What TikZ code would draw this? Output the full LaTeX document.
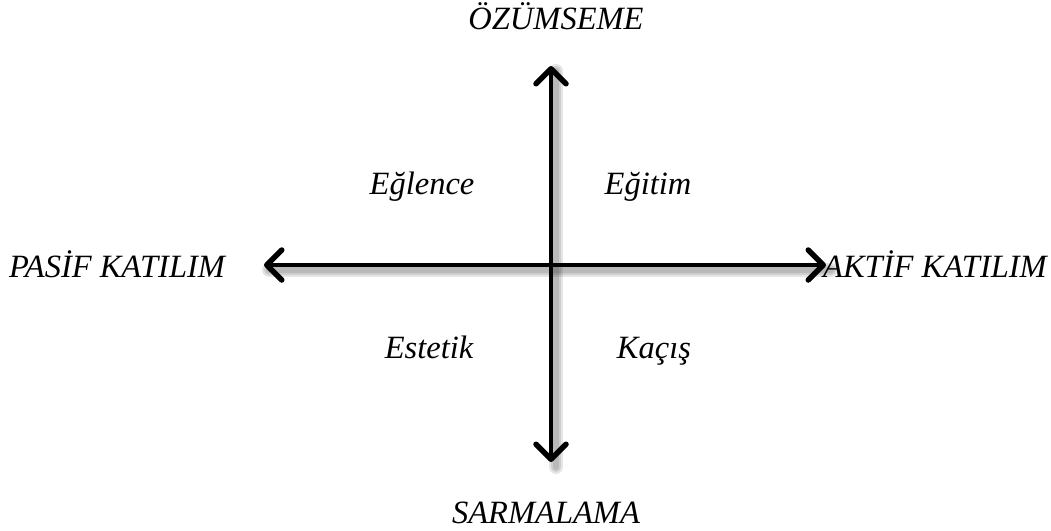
\documentclass[tikz,border=0pt]{standalone}
\usepackage{fontspec}
\setmainfont{Liberation Serif}
\usetikzlibrary{arrows.meta}
\begin{document}
\begin{tikzpicture}[x=1pt,y=-1pt,
  lbl/.style={font=\fontsize{32.5}{37}\selectfont\itshape, anchor=base, inner sep=0pt},
  axis/.style={line width=4pt, {Straight Barb[length=15pt,width=30pt,line width=5.5pt,round]}-{Straight Barb[length=15pt,width=30pt,line width=5.5pt,round]}, line cap=round},
  shad/.style={line width=#1, draw=black, opacity=0.10, line cap=round}]
\useasboundingbox (0,0) rectangle (1051,530);
\coordinate (T) at (551,66);
\coordinate (B) at (551,462);
\coordinate (L) at (264,265);
\coordinate (R) at (826,265);
% shadows
\foreach \w in {14pt,10pt,6pt}{
  \draw[shad=\w] ([shift={(5,5)}]T) -- ([shift={(5,5)}]B);
  \draw[shad=\w] ([shift={(5,5)}]L) -- ([shift={(5,5)}]R);
}
\draw[axis] (T) -- (B);
\draw[axis] (L) -- (R);
\node[lbl] (oz) at (556,29) {ÖZÜMSEME};
\node[lbl] (sa) at (546,523) {SARMALAMA};
\node[lbl, anchor=base west] (pa) at (9,277) {PASİF KATILIM};
\node[lbl, anchor=base west] (ak) at (823,277) {AKTİF KATILIM};
\node[lbl] (eg) at (422,194) {Eğlence};
\node[lbl] (ei) at (648,194) {Eğitim};
\node[lbl] (es) at (429,358) {Estetik};
\node[lbl] (ka) at (654,358) {Kaçış};
\end{tikzpicture}
\end{document}
